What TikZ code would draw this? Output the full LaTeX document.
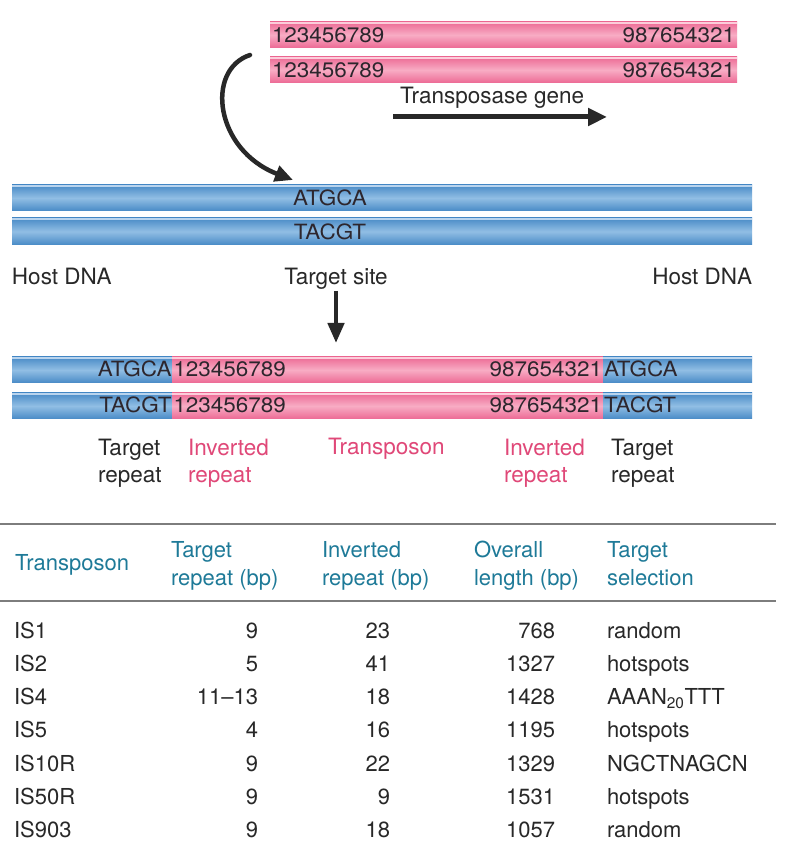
\documentclass[tikz,border=0pt]{standalone}
\usepackage{fontspec}
\setmainfont{TeX Gyre Heros}
\newfontfamily\seqfont[FakeStretch=1.07]{TeX Gyre Heros}
\usetikzlibrary{arrows.meta}

\begin{document}
\begin{tikzpicture}[x=1pt,y=1pt,
  seqtext/.style={text=seqColor,inner sep=0pt,outer sep=0pt,font=\seqfont\fontsize{21}{22}\selectfont},
  lbltext/.style={text=drawColor,inner sep=0pt,outer sep=0pt,align=left,font=\fontsize{22.5}{27}\selectfont},
  tabtext/.style={text=drawColor,inner sep=0pt,outer sep=0pt,align=left,font=\fontsize{22}{28}\selectfont},
  headtext/.style={tabtext,text=tealText},
  pinkbar/.style={top color=pinkDark,bottom color=pinkDark,middle color=pinkLight},
  bluebar/.style={top color=blueDark,bottom color=blueDark,middle color=blueLight},
  fatarrow/.style={draw=drawColor,line width=4.5pt,-{Triangle[length=18pt,width=16pt]}}]
\definecolor{fillColor}{RGB}{255,255,255}
\definecolor{pinkDark}{RGB}{236,105,148}
\definecolor{pinkLight}{RGB}{248,172,196}
\definecolor{pinkEdge}{RGB}{252,205,218}
\definecolor{blueDark}{RGB}{72,138,198}
\definecolor{blueLight}{RGB}{145,190,228}
\definecolor{blueEdge}{RGB}{185,212,238}
\definecolor{seqColor}{RGB}{45,38,45}
\definecolor{drawColor}{RGB}{40,40,40}
\definecolor{pinkText}{RGB}{224,72,120}
\definecolor{tealText}{RGB}{30,122,152}
\definecolor{ruleColor}{RGB}{125,125,125}
\path[use as bounding box,fill=fillColor] (0,0) rectangle (785,849);
\begin{scope}
% transposon alone

\path[pinkbar] (270,801) rectangle (737,827);

\path[draw=pinkEdge,line width=1.5pt] (270,826) -- (737,826);

\path[pinkbar] (270,766) rectangle (737,792);

\path[draw=pinkEdge,line width=1.5pt] (270,791) -- (737,791);

\node[seqtext,anchor=base west] (tpa) at (272,806.5) {123456789};

\node[seqtext,anchor=base east] (tpb) at (735,806.5) {987654321};

\node[seqtext,anchor=base west] (tpc) at (272,771.5) {123456789};

\node[seqtext,anchor=base east] (tpd) at (735,771.5) {987654321};

\node[lbltext,anchor=base west] (tgene) at (400,745) {Transposase gene};

\coordinate (gstart) at (393,732);

\coordinate (gend) at (607,732);

\path[fatarrow,line width=5pt,-{Triangle[length=19pt,width=17pt]}] (gstart) -- (gend);

\coordinate (cstart) at (250,794);

\coordinate (cend) at (293,669);

\path[fatarrow,line cap=round] (cstart) .. controls (205,779) and (215,699) .. (cend);
\end{scope}
\begin{scope}
% host DNA with target site

\path[bluebar] (12,638) rectangle (752,664);

\path[draw=blueEdge,line width=1.5pt] (12,663) -- (752,663);

\path[bluebar] (12,604) rectangle (752,631);

\path[draw=blueEdge,line width=1.5pt] (12,630) -- (752,630);

\node[seqtext,anchor=base] (hsa) at (330,643) {ATGCA};

\node[seqtext,anchor=base] (hsb) at (330,609) {TACGT};

\node[lbltext,anchor=base west] (hleft) at (12,564) {Host DNA};

\node[lbltext,anchor=base] (tsite) at (336,564) {Target site};

\node[lbltext,anchor=base east] (hright) at (752,564) {Host DNA};

\coordinate (dend) at (336,506);

\path[fatarrow,line width=4.5pt,-{Triangle[length=20pt,width=16pt]}] ([yshift=-1pt]tsite.south) -- (dend);
\end{scope}
\begin{scope}
% after insertion

\path[bluebar] (12,466) rectangle (172,492);

\path[pinkbar] (172,466) rectangle (603,492);

\path[bluebar] (603,466) rectangle (752,492);

\path[draw=blueEdge,line width=1.5pt] (12,491) -- (172,491);

\path[draw=pinkEdge,line width=1.5pt] (172,491) -- (603,491);

\path[draw=blueEdge,line width=1.5pt] (603,491) -- (752,491);

\path[bluebar] (12,430) rectangle (172,456);

\path[pinkbar] (172,430) rectangle (603,456);

\path[bluebar] (603,430) rectangle (752,456);

\path[draw=blueEdge,line width=1.5pt] (12,455) -- (172,455);

\path[draw=pinkEdge,line width=1.5pt] (172,455) -- (603,455);

\path[draw=blueEdge,line width=1.5pt] (603,455) -- (752,455);

\node[seqtext,anchor=base east] (ra) at (171.5,472) {ATGCA};

\node[seqtext,anchor=base west] (rb) at (173.5,472) {123456789};

\node[seqtext,anchor=base east] (rc) at (602,472) {987654321};

\node[seqtext,anchor=base west] (rd) at (604,472) {ATGCA};

\node[seqtext,anchor=base east] (re) at (171.5,436) {TACGT};

\node[seqtext,anchor=base west] (rf) at (173.5,436) {123456789};

\node[seqtext,anchor=base east] (rg) at (602,436) {987654321};

\node[seqtext,anchor=base west] (rh) at (604,436) {TACGT};

\node[lbltext,anchor=north west] (trleft) at (98,410.2) {Target\\repeat};

\node[lbltext,text=pinkText,anchor=north west] (irleft) at (188,410.2) {Inverted\\repeat};

\node[lbltext,text=pinkText,anchor=base west] (tposon) at (328,394) {Transposon};

\node[lbltext,text=pinkText,anchor=north west] (irright) at (504,410.2) {Inverted\\repeat};

\node[lbltext,anchor=north west] (trright) at (611,410.2) {Target\\repeat};
\end{scope}
\begin{scope}
% table

\path[draw=ruleColor,line width=2.5pt] (0,325) -- (776,325);

\path[draw=ruleColor,line width=2.5pt] (0,248) -- (776,248);

\node[headtext,anchor=base west] (hda) at (15,278) {Transposon};

\node[headtext,anchor=north west] (hdb) at (171,307.8) {Target\\repeat (bp)};

\node[headtext,anchor=north west] (hdc) at (322,307.8) {Inverted\\repeat (bp)};

\node[headtext,anchor=north west] (hdd) at (474,307.8) {Overall\\length (bp)};

\node[headtext,anchor=north west] (hde) at (607,307.8) {Target\\selection};

\node[tabtext,anchor=base west] (r1a) at ( 14,210.7) {IS1};

\node[tabtext,anchor=base east] (r1b) at (258,210.7) {9};

\node[tabtext,anchor=base east] (r1c) at (390,210.7) {23};

\node[tabtext,anchor=base east] (r1d) at (555,210.7) {768};

\node[tabtext,anchor=base west] (r1e) at (607,210.7) {random};

\node[tabtext,anchor=base west] (r2a) at ( 14,177.5) {IS2};

\node[tabtext,anchor=base east] (r2b) at (258,177.5) {5};

\node[tabtext,anchor=base east] (r2c) at (390,177.5) {41};

\node[tabtext,anchor=base east] (r2d) at (555,177.5) {1327};

\node[tabtext,anchor=base west] (r2e) at (607,177.5) {hotspots};

\node[tabtext,anchor=base west] (r3a) at ( 14,144.3) {IS4};

\node[tabtext,anchor=base east] (r3b) at (258,144.3) {11–13};

\node[tabtext,anchor=base east] (r3c) at (390,144.3) {18};

\node[tabtext,anchor=base east] (r3d) at (555,144.3) {1428};

\node[tabtext,anchor=base west] (r3e) at (607,144.3) {AAAN\textsubscript{20}TTT};

\node[tabtext,anchor=base west] (r4a) at ( 14,111.1) {IS5};

\node[tabtext,anchor=base east] (r4b) at (258,111.1) {4};

\node[tabtext,anchor=base east] (r4c) at (390,111.1) {16};

\node[tabtext,anchor=base east] (r4d) at (555,111.1) {1195};

\node[tabtext,anchor=base west] (r4e) at (607,111.1) {hotspots};

\node[tabtext,anchor=base west] (r5a) at ( 14, 77.9) {IS10R};

\node[tabtext,anchor=base east] (r5b) at (258, 77.9) {9};

\node[tabtext,anchor=base east] (r5c) at (390, 77.9) {22};

\node[tabtext,anchor=base east] (r5d) at (555, 77.9) {1329};

\node[tabtext,anchor=base west] (r5e) at (607, 77.9) {NGCTNAGCN};

\node[tabtext,anchor=base west] (r6a) at ( 14, 44.7) {IS50R};

\node[tabtext,anchor=base east] (r6b) at (258, 44.7) {9};

\node[tabtext,anchor=base east] (r6c) at (390, 44.7) {9};

\node[tabtext,anchor=base east] (r6d) at (555, 44.7) {1531};

\node[tabtext,anchor=base west] (r6e) at (607, 44.7) {hotspots};

\node[tabtext,anchor=base west] (r7a) at ( 14, 11.5) {IS903};

\node[tabtext,anchor=base east] (r7b) at (258, 11.5) {9};

\node[tabtext,anchor=base east] (r7c) at (390, 11.5) {18};

\node[tabtext,anchor=base east] (r7d) at (555, 11.5) {1057};

\node[tabtext,anchor=base west] (r7e) at (607, 11.5) {random};
\end{scope}
\end{tikzpicture}
\end{document}
